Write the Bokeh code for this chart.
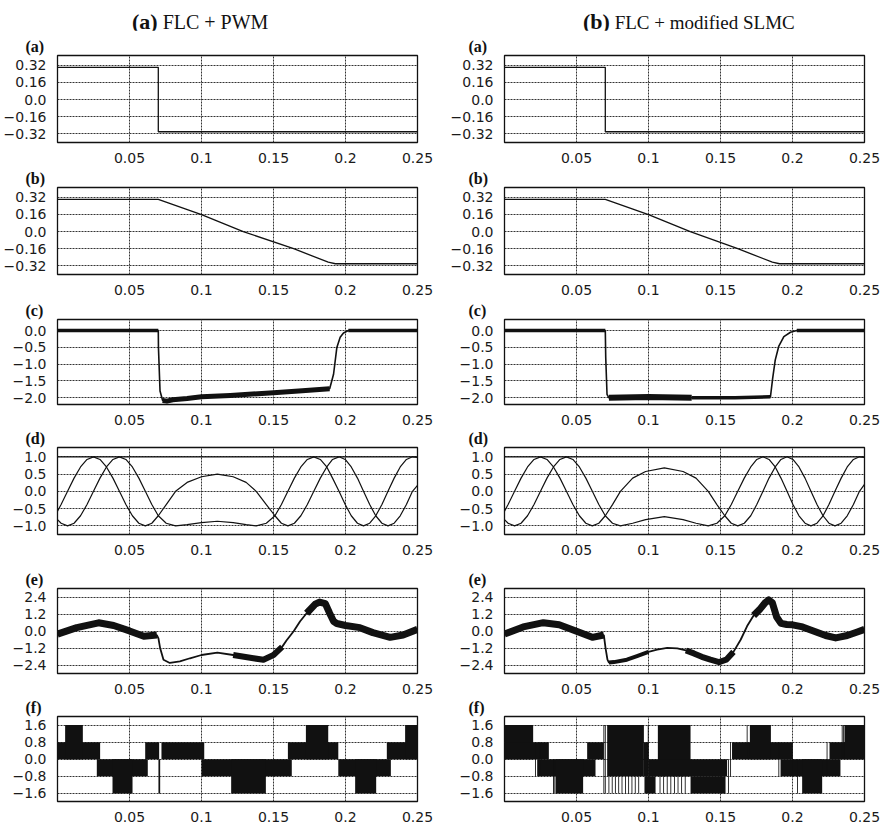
from bokeh.plotting import figure
from bokeh.layouts import column, row
from bokeh.models import FixedTicker, Range1d, Div
from bokeh.embed import file_html
from bokeh.resources import INLINE

# ---------------- data ----------------
col_heads = [("(a)", "FLC + PWM"), ("(b)", "FLC + modified SLMC")]
panel_letters = ["(a)", "(b)", "(c)", "(d)", "(e)", "(f)"]

x_ticks = [0.05, 0.1, 0.15, 0.2, 0.25]
x_tick_labels = ["0.05", "0.1", "0.15", "0.2", "0.25"]

ticks_ab = [0.32, 0.16, 0.0, -0.16, -0.32]
labels_ab = ["0.32", "0.16", "0.0", "\u22120.16", "\u22120.32"]
ticks_c = [0.0, -0.5, -1.0, -1.5, -2.0]
labels_c = ["0.0", "\u22120.5", "\u22121.0", "\u22121.5", "\u22122.0"]
ticks_d = [1.0, 0.5, 0.0, -0.5, -1.0]
labels_d = ["1.0", "0.5", "0.0", "\u22120.5", "\u22121.0"]
ticks_e = [2.4, 1.2, 0.0, -1.2, -2.4]
labels_e = ["2.4", "1.2", "0.0", "\u22121.2", "\u22122.4"]
ticks_f = [1.6, 0.8, 0.0, -0.8, -1.6]
labels_f = ["1.6", "0.8", "0.0", "\u22120.8", "\u22121.6"]

# (a) reference step
a_t = [0.0, 0.07, 0.07, 0.25]
a_left = [0.3, 0.3, -0.3, -0.3]
a_right = [0.3, 0.3, -0.3, -0.3]

# (b) ramp
b_t_left = [0.0, 0.07, 0.1, 0.129, 0.164, 0.188, 0.193, 0.25]
b_left = [0.3, 0.3, 0.158, 0.0, -0.16, -0.285, -0.3, -0.3]
b_t_right = [0.0, 0.07, 0.1, 0.129, 0.162, 0.186, 0.191, 0.25]
b_right = [0.3, 0.3, 0.158, 0.0, -0.16, -0.285, -0.3, -0.3]

# (c)
c_t_left = [0.0, 0.07, 0.0701, 0.0712, 0.073, 0.076, 0.08, 0.09, 0.1, 0.12, 0.15,
            0.17, 0.189, 0.1917, 0.194, 0.1963, 0.1986, 0.202, 0.25]
c_left = [0.0, 0.0, -0.5, -1.8, -2.08, -2.1, -2.06, -2.02, -1.97, -1.93, -1.85,
          -1.79, -1.73, -1.3, -0.5, -0.2, -0.07, 0.0, 0.0]
c_t_right = [0.0, 0.07, 0.0703, 0.0712, 0.0725, 0.1, 0.13, 0.16, 0.1847, 0.1862,
             0.188, 0.1905, 0.194, 0.1986, 0.203, 0.25]
c_right = [0.0, 0.0, -0.8, -1.9, -2.0, -1.98, -2.0, -2.0, -1.97, -1.43,
           -0.88, -0.46, -0.18, -0.05, 0.0, 0.0]

# (d)
d_t_left = [0.0, 0.0025, 0.007, 0.0115, 0.016, 0.0205, 0.025, 0.0295, 0.034, 0.0385,
            0.043, 0.0475, 0.052, 0.0565, 0.061, 0.0655, 0.07, 0.0755, 0.082, 0.09,
            0.1, 0.111, 0.122, 0.131, 0.138, 0.145, 0.151, 0.1555, 0.16, 0.1645,
            0.169, 0.1735, 0.178, 0.1825, 0.187, 0.191, 0.1955, 0.1998, 0.204, 0.2083,
            0.2125, 0.2168, 0.221, 0.2253, 0.2295, 0.2338, 0.238, 0.2423, 0.2465, 0.25]
d_cos_left = [-0.574, -0.383, 0.0, 0.383, 0.707, 0.924, 1.0, 0.924, 0.707, 0.383,
              0.0, -0.383, -0.707, -0.924, -1.0, -0.924, -0.707, -0.383, 0.0, 0.259,
              0.423, 0.5, 0.423, 0.259, 0.0, -0.383, -0.707, -0.924, -1.0, -0.924,
              -0.707, -0.383, 0.0, 0.383, 0.707, 0.924, 1.0, 0.924, 0.707, 0.383,
              0.0, -0.383, -0.707, -0.924, -1.0, -0.924, -0.707, -0.383, 0.0, 0.174]
d_sin_left = [-0.819, -0.924, -1.0, -0.924, -0.707, -0.383, 0.0, 0.383, 0.707, 0.924,
              1.0, 0.924, 0.707, 0.383, 0.0, -0.383, -0.707, -0.924, -1.0, -0.966,
              -0.906, -0.866, -0.906, -0.966, -1.0, -0.924, -0.707, -0.383, 0.0, 0.383,
              0.707, 0.924, 1.0, 0.924, 0.707, 0.383, 0.0, -0.383, -0.707, -0.924,
              -1.0, -0.924, -0.707, -0.383, 0.0, 0.383, 0.707, 0.924, 1.0, 0.985]
d_t_right = [0.0, 0.0025, 0.007, 0.0115, 0.016, 0.0205, 0.025, 0.0295, 0.034, 0.0385,
             0.043, 0.0475, 0.052, 0.0565, 0.061, 0.0655, 0.07, 0.075, 0.0805, 0.089,
             0.098, 0.111, 0.124, 0.133, 0.1415, 0.1475, 0.153, 0.1575, 0.162, 0.1665,
             0.171, 0.1752, 0.1795, 0.1837, 0.188, 0.192, 0.1962, 0.2003, 0.2045, 0.2087,
             0.2128, 0.217, 0.2212, 0.2253, 0.2295, 0.2338, 0.238, 0.2423, 0.2465, 0.25]
d_cos_right = [-0.574, -0.383, 0.0, 0.383, 0.707, 0.924, 1.0, 0.924, 0.707, 0.383,
               0.0, -0.383, -0.707, -0.924, -1.0, -0.924, -0.707, -0.383, 0.0, 0.383,
               0.574, 0.682, 0.574, 0.383, 0.0, -0.383, -0.707, -0.924, -1.0, -0.924,
               -0.707, -0.383, 0.0, 0.383, 0.707, 0.924, 1.0, 0.924, 0.707, 0.383,
               0.0, -0.383, -0.707, -0.924, -1.0, -0.924, -0.707, -0.383, 0.0, 0.2]
d_sin_right = [-0.819, -0.924, -1.0, -0.924, -0.707, -0.383, 0.0, 0.383, 0.707, 0.924,
               1.0, 0.924, 0.707, 0.383, 0.0, -0.383, -0.707, -0.924, -1.0, -0.924,
               -0.819, -0.731, -0.819, -0.924, -1.0, -0.924, -0.707, -0.383, 0.0, 0.383,
               0.707, 0.924, 1.0, 0.924, 0.707, 0.383, 0.0, -0.383, -0.707, -0.924,
               -1.0, -0.924, -0.707, -0.383, 0.0, 0.383, 0.707, 0.924, 1.0, 0.98]
d_amp_t = [0.0, 0.25]
d_amp = [1.0, 1.0]

# (e)
e_t_left = [0.0, 0.0134, 0.0285, 0.039, 0.05, 0.06, 0.069, 0.0701, 0.0713, 0.0736,
            0.078, 0.085, 0.092, 0.1, 0.111, 0.122, 0.136, 0.143, 0.15, 0.156,
            0.159, 0.164, 0.1685, 0.173, 0.179, 0.182, 0.186, 0.189, 0.1917, 0.194,
            0.2, 0.21, 0.219, 0.231, 0.24, 0.25]
e_left = [-0.2, 0.25, 0.59, 0.4, 0.02, -0.36, -0.27, -0.5, -1.2, -2.0,
          -2.23, -2.12, -1.9, -1.67, -1.51, -1.67, -1.9, -2.0, -1.67, -1.1,
          -0.65, 0.0, 0.7, 1.26, 1.9, 2.05, 1.94, 1.26, 0.7, 0.54,
          0.4, 0.25, -0.1, -0.43, -0.27, 0.13]
e_t_right = [0.0, 0.013, 0.027, 0.038, 0.05, 0.061, 0.069, 0.0702, 0.0715, 0.0725,
             0.076, 0.085, 0.092, 0.1, 0.106, 0.113, 0.12, 0.126, 0.1315, 0.137,
             0.143, 0.149, 0.154, 0.159, 0.164, 0.1685, 0.173, 0.177, 0.181, 0.1835,
             0.186, 0.189, 0.192, 0.196, 0.2, 0.207, 0.215, 0.223, 0.23, 0.238,
             0.245, 0.25]
e_right = [-0.2, 0.3, 0.6, 0.45, 0.0, -0.43, -0.27, -1.2, -2.0, -2.2,
           -2.17, -2.0, -1.75, -1.45, -1.3, -1.17, -1.2, -1.35, -1.56, -1.8,
           -2.0, -2.17, -2.0, -1.45, -0.6, 0.36, 1.1, 1.5, 2.0, 2.2,
           2.0, 1.0, 0.55, 0.47, 0.45, 0.3, 0.0, -0.3, -0.47, -0.3,
           -0.05, 0.13]

# (f) switched voltage blocks
f_left_start = [0.0, 0.0053, 0.0273, 0.0382, 0.0609, 0.0701, 0.0722, 0.1, 0.1206,
                0.16, 0.1725, 0.195, 0.2067, 0.2287, 0.2414]
f_left_end = [0.0296, 0.0176, 0.0627, 0.0521, 0.0706, 0.0713, 0.1019, 0.1627, 0.1447,
              0.195, 0.188, 0.2315, 0.2213, 0.25, 0.25]
f_left_level = [0.8, 1.6, -0.8, -1.6, 0.8, -1.6, 0.8, -0.8, -1.6,
                0.8, 1.6, -0.8, -1.6, 0.8, 1.6]

f_right_start = [0.0, 0.0, 0.0227, 0.0354, 0.0574, 0.0713, 0.0968, 0.0972, 0.1065,
                 0.1, 0.1292, 0.158, 0.1704, 0.1917, 0.2067, 0.2257, 0.2361]
f_right_end = [0.0199, 0.0308, 0.0632, 0.0546, 0.069, 0.0968, 0.1, 0.1049, 0.1292,
               0.1546, 0.1535, 0.1998, 0.185, 0.2333, 0.2206, 0.25, 0.25]
f_right_low = [0.0, 0.0, -0.8, -1.6, 0.0, -0.8, -0.8, -1.6, -0.8,
               -0.8, -1.6, 0.0, 0.0, -0.8, -1.6, 0.0, 0.0]
f_right_high = [1.6, 0.8, 0.0, 0.0, 0.8, 1.6, 0.8, -0.8, 1.6,
                0.0, -0.8, 0.8, 1.6, 0.0, 0.0, 0.8, 1.6]
f_right_pulse_t = [0.0215, 0.0245, 0.034, 0.0345, 0.069, 0.07, 0.0725, 0.0748, 0.077,
                   0.0793, 0.0816, 0.084, 0.0862, 0.0885, 0.0908, 0.0932, 0.0998, 0.108,
                   0.1105, 0.113, 0.1155, 0.118, 0.1205, 0.123, 0.1255, 0.1555, 0.157,
                   0.1685, 0.1905, 0.2, 0.2035, 0.224, 0.2345, 0.2355]
f_right_pulse_low = [-0.8, -0.8, -1.6, -1.6, -1.6, -1.6, -1.6, -1.6, -1.6,
                     -1.6, -1.6, -1.6, -1.6, -1.6, -1.6, -1.6, -0.8, -1.6,
                     -1.6, -1.6, -1.6, -1.6, -1.6, -1.6, -1.6, -1.6, -0.8,
                     0.0, -0.8, -0.8, -1.6, -0.8, 0.0, 0.0]
f_right_pulse_high = [0.8, 0.8, 0.0, 0.0, 1.6, 1.6, -0.8, -0.8, -0.8,
                      -0.8, -0.8, -0.8, -0.8, -0.8, -0.8, -0.8, 1.6, -0.8,
                      -0.8, -0.8, -0.8, -0.8, -0.8, -0.8, -0.8, 0.0, 0.8,
                      1.6, 0.8, 0.8, 0.0, 0.8, 1.6, 1.6]

# ---------------- styling / layout ----------------
TICK_FONT = "DejaVu Sans"
SERIF = "Liberation Serif"
FRAME_W, FRAME_H = 360, 88
INK = "#111111"

# (top border, bottom border) per row
borders = [(25, 22), (22, 22), (22, 20), (20, 22), (31, 20), (20, 20)]
y_setup = [
    (-0.4, 0.41, ticks_ab, labels_ab),
    (-0.4, 0.41, ticks_ab, labels_ab),
    (-2.2, 0.33, ticks_c, labels_c),
    (-1.25, 1.27, ticks_d, labels_d),
    (-2.97, 3.0, ticks_e, labels_e),
    (-1.98, 2.0, ticks_f, labels_f),
]


def make_panel(col, r):
    left = 57 if col == 0 else 64
    w = 440 if col == 0 else 441
    right = w - left - FRAME_W
    top, bottom = borders[r]
    ylo, yhi, yt, yl = y_setup[r]
    p = figure(width=w, height=top + FRAME_H + bottom,
               x_range=Range1d(0, 0.25), y_range=Range1d(ylo, yhi),
               output_backend="svg", toolbar_location=None,
               min_border_left=left, min_border_right=right,
               min_border_top=top, min_border_bottom=bottom)
    p.title.text = panel_letters[r]
    p.title.align = "left"
    p.title.offset = -32 if col == 0 else -36
    p.title.standoff = 1
    p.title.text_font = SERIF
    p.title.text_font_style = "bold"
    p.title.text_font_size = "16px"
    p.title.text_color = "#111111"
    p.xaxis.ticker = FixedTicker(ticks=x_ticks)
    p.xaxis.major_label_overrides = dict(zip(x_ticks, x_tick_labels))
    p.yaxis.ticker = FixedTicker(ticks=yt)
    p.yaxis.major_label_overrides = dict(zip(yt, yl))
    for ax in (p.xaxis[0], p.yaxis[0]):
        ax.axis_line_color = None
        ax.major_tick_line_color = None
        ax.minor_tick_line_color = None
        ax.major_label_text_font = TICK_FONT
        ax.major_label_text_font_size = "14px"
        ax.major_label_text_color = "#1a1a1a"
    p.xaxis.major_label_standoff = 4
    p.yaxis.major_label_standoff = 5
    p.xgrid.ticker = FixedTicker(ticks=x_ticks[:-1])
    p.ygrid.ticker = FixedTicker(ticks=yt)
    p.grid.grid_line_color = "#333333"
    p.grid.grid_line_dash = "2 1"
    p.grid.grid_line_width = 1
    p.outline_line_color = "#111111"
    p.outline_line_width = 1.3
    p.background_fill_color = "white"
    p.border_fill_color = "white"
    return p


def band(p, t, y, t0, t1, w):
    idx = [i for i, tt in enumerate(t) if t0 <= tt <= t1]
    p.line([t[i] for i in idx], [y[i] for i in idx], line_color=INK,
           line_width=w, line_join="round")


figs = [[make_panel(c, r) for c in range(2)] for r in range(6)]

# (a)
figs[0][0].line(a_t, a_left, line_color=INK, line_width=1.3)
figs[0][1].line(a_t, a_right, line_color=INK, line_width=1.3)
# (b)
figs[1][0].line(b_t_left, b_left, line_color=INK, line_width=1.3)
figs[1][1].line(b_t_right, b_right, line_color=INK, line_width=1.3)
# (c)
pc = figs[2][0]
pc.line(c_t_left, c_left, line_color=INK, line_width=1.6)
band(pc, c_t_left, c_left, 0.0, 0.07, 3.5)
band(pc, c_t_left, c_left, 0.073, 0.189, 5)
band(pc, c_t_left, c_left, 0.202, 0.25, 3.5)
pc = figs[2][1]
pc.line(c_t_right, c_right, line_color=INK, line_width=1.6)
band(pc, c_t_right, c_right, 0.0, 0.07, 3.5)
band(pc, c_t_right, c_right, 0.0725, 0.13, 6)
band(pc, c_t_right, c_right, 0.13, 0.1847, 3.5)
band(pc, c_t_right, c_right, 0.203, 0.25, 3.5)
# (d)
for c, (dt, dc, ds) in enumerate([(d_t_left, d_cos_left, d_sin_left),
                                  (d_t_right, d_cos_right, d_sin_right)]):
    pd = figs[3][c]
    pd.line(d_amp_t, d_amp, line_color=INK, line_width=1.3)
    pd.line(dt, dc, line_color=INK, line_width=1.2)
    pd.line(dt, ds, line_color=INK, line_width=1.2)
# (e)
pe = figs[4][0]
pe.line(e_t_left, e_left, line_color=INK, line_width=1.8)
band(pe, e_t_left, e_left, 0.0, 0.069, 7)
band(pe, e_t_left, e_left, 0.122, 0.156, 6)
band(pe, e_t_left, e_left, 0.173, 0.25, 7)
pe = figs[4][1]
pe.line(e_t_right, e_right, line_color=INK, line_width=1.8)
band(pe, e_t_right, e_right, 0.0, 0.069, 7)
band(pe, e_t_right, e_right, 0.0725, 0.1, 4)
band(pe, e_t_right, e_right, 0.126, 0.159, 6)
band(pe, e_t_right, e_right, 0.173, 0.25, 7)
# (f)
pf = figs[5][0]
pf.quad(left=f_left_start, right=f_left_end,
        bottom=[min(0.0, v) for v in f_left_level],
        top=[max(0.0, v) for v in f_left_level],
        fill_color=INK, line_color=None)
pf = figs[5][1]
pf.quad(left=f_right_start, right=f_right_end, bottom=f_right_low, top=f_right_high,
        fill_color=INK, line_color=None)
pf.quad(left=[t - 0.0003 for t in f_right_pulse_t],
        right=[t + 0.0003 for t in f_right_pulse_t],
        bottom=f_right_pulse_low, top=f_right_pulse_high,
        fill_color=INK, line_color=None)

# column headings
head_html = (
    '<div style="position:relative;width:881px;height:30px;'
    "font-family:'Liberation Serif',serif;color:#111;\">"
    '<div style="position:absolute;left:132px;top:6px;white-space:nowrap;font-size:20px;">'
    '<b style="font-size:22px;">%s</b> %s</div>'
    '<div style="position:absolute;left:583px;top:6px;white-space:nowrap;font-size:19px;">'
    '<b style="font-size:22px;">%s</b> %s</div></div>'
) % (col_heads[0][0], col_heads[0][1], col_heads[1][0], col_heads[1][1])
head = Div(text=head_html, width=881, height=30, margin=(0, 0, 0, 0))

layout = column(head, *[row(figs[r][0], figs[r][1]) for r in range(6)])
open("out.html", "w").write(file_html(layout, INLINE))
